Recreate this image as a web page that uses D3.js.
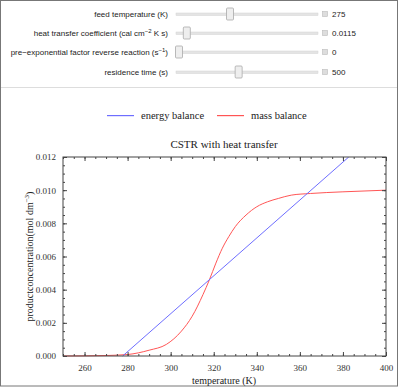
<!DOCTYPE html>
<html>
<head>
<meta charset="utf-8">
<script src="https://cdn.jsdelivr.net/npm/d3@7"></script>
<style>
  body { margin: 0; background: #fff; }
  svg { display: block; }
</style>
</head>
<body>
<svg id="chart" width="400" height="387"></svg>
<script>
// slider panel
const sliderLabels = ["feed temperature (K)", "heat transfer coefficient (cal cm", "pre\u2212exponential factor reverse reaction (s", "residence time (s)"];
const sliderSup = ["", "\u22122", "\u22121", ""];
const sliderTail = ["", " K s)", ")", ""];
const sliderValues = [275, 0.0115, 0, 500];
const sliderMin = [200, 0, 0, 0];
const sliderMax = [400, 0.2, 1, 1140];

// chart data
const energyT = [277.7, 382.7];
const energyC = [0, 0.012];
const massT = [250, 260, 270, 280, 290, 298, 305, 310, 315, 318, 321, 324, 327, 330, 335, 340, 345, 350, 356, 365, 380, 400];
const massC = [0, 0.00001, 0.00003, 0.00009, 0.00035, 0.0007, 0.0015, 0.0024, 0.0037, 0.0046, 0.0056, 0.0065, 0.0072, 0.0078, 0.0085, 0.0090, 0.0093, 0.0095, 0.0097, 0.0098, 0.0099, 0.0100];
const xTicks = [260, 280, 300, 320, 340, 360, 380, 400];
const yTicks = [0, 0.002, 0.004, 0.006, 0.008, 0.010, 0.012];

const svg = d3.select("#chart");
const serif = "'Liberation Serif', 'Times New Roman', serif";
const sans = "'Liberation Sans', Arial, sans-serif";
const blue = "rgb(110,110,255)";
const red = "rgb(255,85,85)";

// outer frame
svg.append("rect").attr("x", 0.5).attr("y", 0.5).attr("width", 397).attr("height", 385.5)
  .attr("fill", "none").attr("stroke", "#777");
svg.append("line").attr("x1", 1).attr("x2", 397).attr("y1", 87.5).attr("y2", 87.5)
  .attr("stroke", "#ddd");

// sliders
const rowY = [14, 33, 52, 72];
const track = d3.scaleLinear().domain([0, 1]).range([179, 315]);
sliderLabels.forEach((lab, i) => {
  const y = rowY[i];
  const t = svg.append("text").attr("x", 168).attr("y", y + 3)
    .attr("text-anchor", "end").attr("font-family", sans).attr("font-size", 8).attr("fill", "#222");
  t.append("tspan").text(lab);
  if (sliderSup[i]) {
    t.append("tspan").attr("font-size", 6).attr("dy", -3).text(sliderSup[i]);
    t.append("tspan").attr("dy", 3).text(sliderTail[i]);
  }
  svg.append("rect").attr("x", 176).attr("y", y - 1).attr("width", 142).attr("height", 2.5)
    .attr("fill", "#e4e4e4").attr("stroke", "#d4d4d4").attr("stroke-width", 0.5);
  const f = (sliderValues[i] - sliderMin[i]) / (sliderMax[i] - sliderMin[i]);
  svg.append("rect").attr("x", track(f) - 3.5).attr("y", y - 6).attr("width", 7).attr("height", 12)
    .attr("rx", 1).attr("fill", "#eee").attr("stroke", "#aaa").attr("stroke-width", 0.8);
  svg.append("rect").attr("x", 322.5).attr("y", y - 2.5).attr("width", 5).attr("height", 5)
    .attr("fill", "#ddd").attr("stroke", "#bbb").attr("stroke-width", 0.6);
  svg.append("text").attr("x", 332).attr("y", y + 3).attr("font-family", sans).attr("font-size", 8)
    .attr("fill", "#222").text(sliderValues[i]);
});

// legend
const legendNames = ["energy balance", "mass balance"];
const legendColors = [blue, red];
const legendX = [107, 217];
legendNames.forEach((name, i) => {
  svg.append("rect").attr("x", legendX[i]).attr("y", 115).attr("width", 27).attr("height", 1.2)
    .attr("fill", legendColors[i]);
  svg.append("text").attr("x", legendX[i] + 34).attr("y", 119).attr("font-family", serif).attr("font-size", 10.5)
    .attr("fill", "#222").text(name);
});

// plot
const L = 63, R = 386, T = 157, B = 356;
const x = d3.scaleLinear().domain([250, 400]).range([L, R]);
const y = d3.scaleLinear().domain([0, 0.012]).range([B, T]);

svg.append("text").attr("x", 224).attr("y", 148).attr("text-anchor", "middle")
  .attr("font-family", serif).attr("font-size", 11).attr("fill", "#222").text("CSTR with heat transfer");

svg.append("defs").append("clipPath").attr("id", "clip")
  .append("rect").attr("x", L).attr("y", T).attr("width", R - L).attr("height", B - T + 1);

const g = svg.append("g").attr("clip-path", "url(#clip)");
const massLine = d3.line().x(d => x(d[0])).y(d => y(d[1])).curve(d3.curveMonotoneX);
const energyLine = d3.line().x(d => x(d[0])).y(d => y(d[1]));
g.append("path").datum(d3.zip(massT, massC))
  .attr("d", massLine).attr("fill", "none")
  .attr("stroke", red).attr("stroke-width", 1);
g.append("path").datum(d3.zip(energyT, energyC))
  .attr("d", energyLine).attr("fill", "none")
  .attr("stroke", blue).attr("stroke-width", 1);

// axes (ticks pointing inward, Mathematica frame)
const axColor = "#444";
function styleAxis(sel) {
  sel.select(".domain").remove();
  sel.selectAll("line").attr("stroke", axColor);
  sel.selectAll("text").attr("font-family", serif).attr("font-size", 9).attr("fill", "#333");
}
const xMinor = d3.range(250, 401, 5);
const yMinor = d3.range(0, 0.01201, 0.0005);

svg.append("g").attr("transform", `translate(0,${B})`)
  .call(d3.axisBottom(x).tickValues(xMinor).tickSize(-2).tickFormat("")).call(styleAxis);
svg.append("g").attr("transform", `translate(0,${B})`)
  .call(d3.axisBottom(x).tickValues(xTicks).tickSize(-4).tickPadding(9).tickFormat(d3.format("d"))).call(styleAxis);
svg.append("g").attr("transform", `translate(0,${T})`)
  .call(d3.axisTop(x).tickValues(xMinor).tickSize(-2).tickFormat("")).call(styleAxis);
svg.append("g").attr("transform", `translate(0,${T})`)
  .call(d3.axisTop(x).tickValues(xTicks).tickSize(-4).tickFormat("")).call(styleAxis);

svg.append("g").attr("transform", `translate(${L},0)`)
  .call(d3.axisLeft(y).tickValues(yMinor).tickSize(-2).tickFormat("")).call(styleAxis);
svg.append("g").attr("transform", `translate(${L},0)`)
  .call(d3.axisLeft(y).tickValues(yTicks).tickSize(-4).tickPadding(7).tickFormat(d3.format(".3f"))).call(styleAxis);
svg.append("g").attr("transform", `translate(${R},0)`)
  .call(d3.axisRight(y).tickValues(yMinor).tickSize(-2).tickFormat("")).call(styleAxis);
svg.append("g").attr("transform", `translate(${R},0)`)
  .call(d3.axisRight(y).tickValues(yTicks).tickSize(-4).tickFormat("")).call(styleAxis);

svg.append("rect").attr("x", L).attr("y", T).attr("width", R - L).attr("height", B - T)
  .attr("fill", "none").attr("stroke", axColor).attr("stroke-width", 1);

// axis labels
svg.append("text").attr("x", 224).attr("y", 384).attr("text-anchor", "middle")
  .attr("font-family", serif).attr("font-size", 10).attr("fill", "#222").text("temperature (K)");
const yl = svg.append("text").attr("transform", `translate(33,${(T + B) / 2}) rotate(-90)`)
  .attr("text-anchor", "middle").attr("font-family", serif).attr("font-size", 10).attr("fill", "#222");
yl.append("tspan").text("productconcentration(mol dm");
yl.append("tspan").attr("font-size", 7).attr("dy", -4).text("\u22123");
yl.append("tspan").attr("dy", 4).text(")");
</script>
</body>
</html>
